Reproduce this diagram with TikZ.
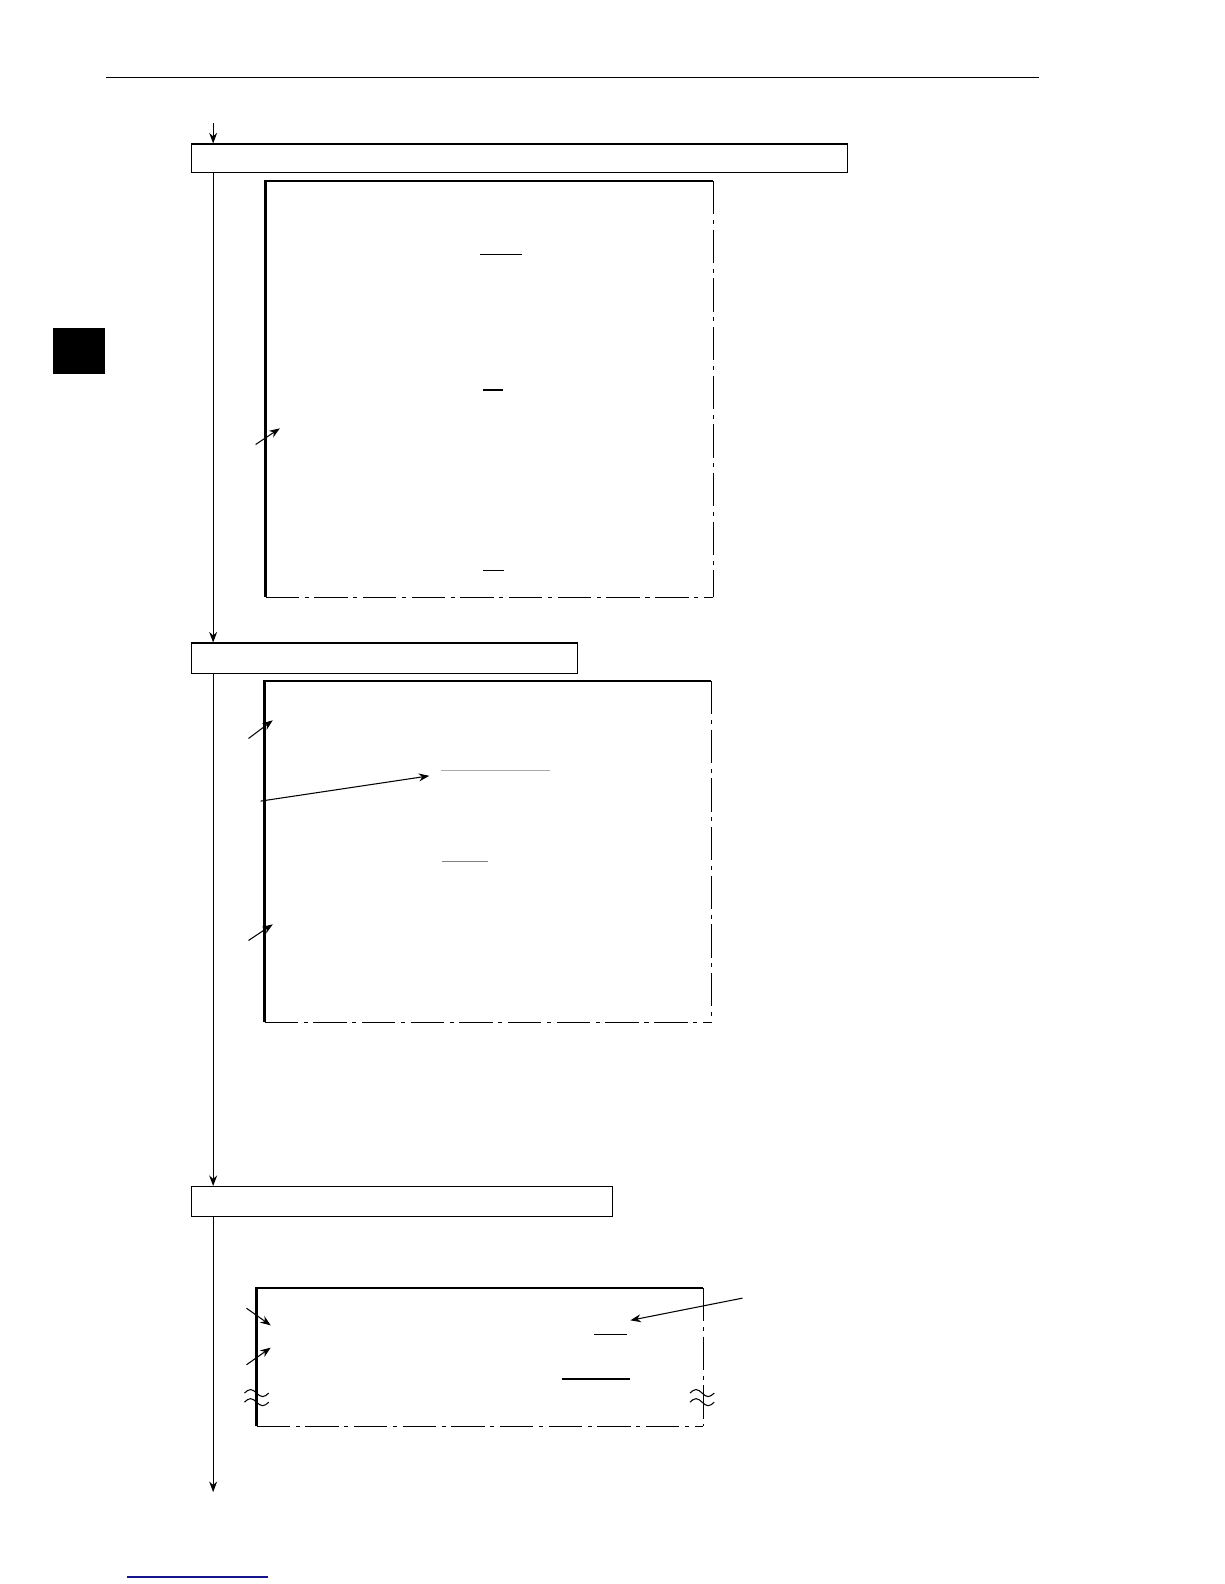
\documentclass[tikz,border=0pt]{standalone}
\usepackage{xcolor}
\usetikzlibrary{positioning, arrows.meta}

\definecolor{linkblue}{RGB}{20,20,140}
\definecolor{lightrule}{RGB}{170,170,170}
\definecolor{midrule}{RGB}{130,130,130}

\tikzset{
    flowbox/.style={draw, line width=0.6pt, anchor=north west, inner sep=0pt},
    flow/.style={line width=0.6pt, -{Stealth[length=6pt,width=4.5pt]}},
    pointer/.style={line width=0.6pt, -{Stealth[length=6pt,width=4.5pt]}},
    solidedge/.style={line width=1.4pt},
    cutedge/.style={line width=0.6pt, dash pattern=on 19pt off 3.2pt on 2.3pt off 3.2pt},
    underline/.style={line width=0.8pt}
}

\begin{document}
\begin{tikzpicture}[x=0.0202cm, y=-0.0202cm]
    \useasboundingbox (0,0) rectangle (1212,1568);
    % page furniture
    \draw[line width=0.6pt] (105,77) -- (1028,77);
    \fill (52,325) rectangle (104,370);
    \draw[linkblue, line width=0.8pt] (126,1561) -- (265,1561);

    % step boxes
    \foreach \n/\y/\w/\h in {1/142/649/28, 2/636/382/30, 3/1174/417/30} {
        \node[flowbox, minimum width=\w*0.0202cm, minimum height=\h*0.0202cm] (box\n) at (189,\y) {};
    }
    \coordinate (in) at (211,122);
    \coordinate (out) at (211,1477);
    \draw[flow] (in) -- (in |- box1.north);
    \draw[flow] (box1.south -| in) -- (box2.north -| in);
    \draw[flow] (box2.south -| in) -- (box3.north -| in);
    \draw[flow] (box3.south -| in) -- (out);

    % screen frames
    \foreach \l/\t/\r/\b in {263/179/706/591, 262/674/704/1012, 254/1275/696/1412} {
        \draw[solidedge] (\l,\b) -- (\l,\t) -- (\r,\t);
        \draw[cutedge] (\r,\t) -- (\r,\b);
        \draw[cutedge] (\l,\b) -- (\r,\b);
    }

    % underlined entries
    \foreach \x/\y/\len/\c in {475/252/42/black, 478/386/20/black, 478/565/21/black,
                               437/763/107/lightrule, 438/853/45/midrule,
                               588/1321/33/black, 556/1365/68/black} {
        \draw[underline, \c] (\x,\y) -- ++(\len,0);
    }

    % pointers
    \foreach \i/\s/\e in {a/{253,440}/{277,424}, b/{246,731}/{270,713}, c/{258,793}/{425,768},
                          d/{246,931}/{270,915}, e/{244,1295}/{268,1312}, f/{244,1351}/{268,1334},
                          g/{735,1285}/{624,1307}} {
        \coordinate (\i tail) at (\s);
        \coordinate (\i tip) at (\e);
        \draw[pointer] (\i tail) -- (\i tip);
    }

    % break marks
    \foreach \x in {254,695} {
        \foreach \y in {1379,1388} {
            \draw[line width=0.6pt] (\x-12,\y) sin (\x-6,\y-3.5) cos (\x,\y) sin (\x+6,\y+3.5) cos (\x+12,\y);
        }
    }
\end{tikzpicture}
\end{document}
